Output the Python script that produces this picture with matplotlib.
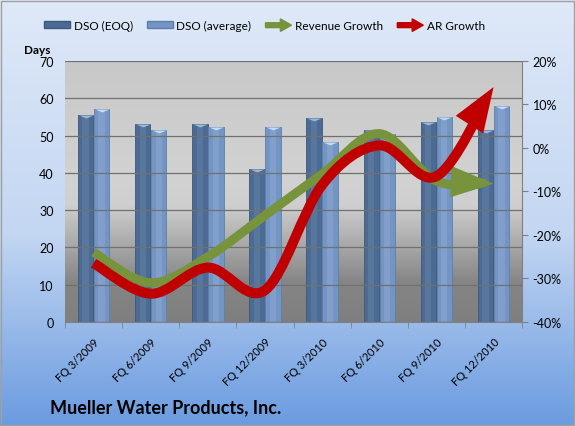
import numpy as np
import matplotlib
matplotlib.use("Agg")
import matplotlib.pyplot as plt
import matplotlib.patches as mpatches
from matplotlib.path import Path
from matplotlib.legend_handler import HandlerPatch
from matplotlib.colors import LinearSegmentedColormap

quarters = ["FQ 3/2009", "FQ 6/2009", "FQ 9/2009", "FQ 12/2009",
            "FQ 3/2010", "FQ 6/2010", "FQ 9/2010", "FQ 12/2010"]
dso_eoq = [55.5, 53, 53, 41, 54.6, 51.5, 53.7, 51.4]
dso_avg = [57, 51.4, 52.4, 52.4, 48.2, 50.5, 55, 58]
revenue_growth = [-24, -31, -25, -15.5, -6, 3.3, -7.6, -8.2]
ar_growth = [-26.5, -33.5, -27.5, -32.7, -8.5, 0.6, -6.5, 14]

plt.rcParams['font.family'] = ['Lato', 'DejaVu Sans']


def smooth_path(xs, ys):
	"""Bezier path through the points, like Excel's smoothed line"""
	pts = np.column_stack([xs, ys]).astype(float)
	n = len(pts)
	verts = [pts[0]]
	codes = [Path.MOVETO]
	for i in range(n - 1):
		p0 = pts[max(i - 1, 0)]
		p1 = pts[i]
		p2 = pts[i + 1]
		p3 = pts[min(i + 2, n - 1)]
		c1 = p1 + (p2 - p0) / 6
		c2 = p2 - (p3 - p1) / 6
		verts += [c1, c2, p2]
		codes += [Path.CURVE4] * 3
	return Path(verts, codes)


def make_arrow(legend, orig_handle, xdescent, ydescent, width, height, fontsize):
	return mpatches.FancyArrow(0, height / 2, width, 0, width=3.5, head_width=9,
		head_length=8, length_includes_head=True)


fig = plt.figure(figsize=(5.75, 4.27), dpi=100)

# figure background gradient
bg = fig.add_axes([0, 0, 1, 1], zorder=-10)
bg_cmap = LinearSegmentedColormap.from_list("bg", [(0, "#6a9be0"), (0.45, "#c3d6f2"), (1, "#dfe9f8")])
bg.imshow(np.linspace(0, 1, 256).reshape(-1, 1), aspect="auto", cmap=bg_cmap,
	origin="lower", extent=[0, 1, 0, 1])
bg.add_patch(mpatches.Rectangle((0.002, 0.002), 0.996, 0.994, fill=False, ec="#a0a0a0", lw=1))
bg.set_xlim(0, 1)
bg.set_ylim(0, 1)
bg.axis("off")

ax = fig.add_axes([0.113, 0.2436, 0.795, 0.6112])
ax.patch.set_alpha(0)
x = np.arange(len(quarters))

# plot area gradient
pa_cmap = LinearSegmentedColormap.from_list("pa", [(0, "#7f7f7f"), (0.15, "#858585"),
	(0.45, "#cfcfcf"), (0.55, "#d2d2d2"), (1, "#c8c8c8")])
ax.imshow(np.linspace(0, 1, 256).reshape(-1, 1), aspect="auto", cmap=pa_cmap,
	origin="lower", extent=[-0.5, 7.5, 0, 70], zorder=0)

bw = 0.27
cap = [(-1, 0), (1, 0), (0, -0.4), (-1, 0)]
ax.bar(x - 0.14, dso_eoq, bw, color="#4b6b94", edgecolor="#3d5878", lw=0.6, zorder=2)
ax.bar(x + 0.14, dso_avg, bw, color="#7395c4", edgecolor="#5f7fa8", lw=0.6, zorder=2)
ax.bar(x - 0.14, dso_eoq, bw * 0.4, color="white", alpha=0.08, zorder=2.1)
ax.bar(x + 0.14, dso_avg, bw * 0.4, color="white", alpha=0.1, zorder=2.1)
ax.plot(x - 0.14, dso_eoq, ls="none", marker=cap, ms=10.5, mew=0, color="#9ab8de", zorder=2.2)
ax.plot(x + 0.14, dso_avg, ls="none", marker=cap, ms=10.5, mew=0, color="#c0dcf6", zorder=2.2)

ax.set_xlim(-0.5, 7.5)
ax.set_ylim(0, 70)
ax.set_yticks(range(0, 71, 10))
ax.grid(axis="y", color="#707070", lw=0.9, zorder=1)
ax.set_axisbelow(False)
ax.set_xticks(x)
ax.set_xticklabels(quarters, rotation=45, ha="right", rotation_mode="anchor", fontsize=8)
ax.set_xticks(np.arange(-0.5, 8, 1), minor=True)
ax.tick_params(axis="x", which="major", length=0, pad=10)
ax.tick_params(axis="x", which="minor", length=4, color="#808080")
ax.tick_params(axis="y", length=0, labelsize=9, pad=8)
for side in ["top", "right", "left"]:
	ax.spines[side].set_visible(False)
ax.spines["bottom"].set_color("#808080")
ax.text(-0.09, 1.03, "Days", transform=ax.transAxes, fontsize=8.5, fontweight="bold")

ax2 = ax.twinx()
ax2.set_ylim(-40, 20)
ax2.set_yticks(range(-40, 21, 10))
ax2.yaxis.set_major_formatter(plt.FuncFormatter(lambda v, p: f"{int(v)}%"))
ax2.tick_params(axis="y", length=4, color="#808080", labelsize=9)
for side in ["top", "left", "bottom"]:
	ax2.spines[side].set_visible(False)
ax2.spines["right"].set_color("#808080")

green = "#77933c"
red = "#c00000"
ax2.add_patch(mpatches.FancyArrowPatch(path=smooth_path(x, revenue_growth),
	arrowstyle="-|>,head_length=1.5,head_width=0.55", mutation_scale=12, lw=6.5,
	color=green, capstyle="butt", joinstyle="miter", zorder=3))
ax2.add_patch(mpatches.FancyArrowPatch(path=smooth_path(x, ar_growth),
	arrowstyle="-|>,head_length=1.5,head_width=0.55", mutation_scale=12, lw=7.2,
	color=red, capstyle="butt", joinstyle="miter", zorder=4))

handles = [mpatches.Patch(fc="#4b6b94", ec="#3d5878"),
	mpatches.Patch(fc="#7395c4", ec="#5f7fa8"),
	mpatches.Patch(color=green), mpatches.Patch(color=red)]
labels = ["DSO (EOQ)", "DSO (average)", "Revenue Growth", "AR Growth"]
fig.legend(handles, labels, loc="center", bbox_to_anchor=(0.46, 1 - 26 / 427), ncol=4,
	frameon=False, fontsize=8.5, handlelength=2.2, handleheight=0.5, handletextpad=0.3,
	columnspacing=1.2,
	handler_map={handles[2]: HandlerPatch(patch_func=make_arrow),
		handles[3]: HandlerPatch(patch_func=make_arrow)})

fig.text(50 / 575, 1 - 408 / 427, "Mueller Water Products, Inc.", fontsize=13,
	fontweight="bold", va="center")

fig.savefig("out.png", dpi=100)
